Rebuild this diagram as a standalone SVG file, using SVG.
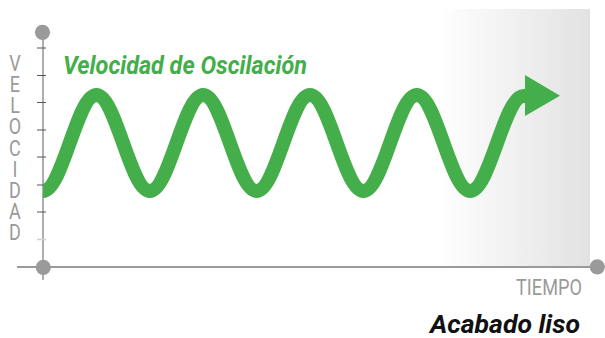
<svg xmlns="http://www.w3.org/2000/svg" width="605" height="338" viewBox="0 0 605 338">
<style>
.axis{stroke:#9a9a9a;fill:none}
.tick{stroke:#555;stroke-width:1}
.dot{fill:#9a9a9a}
.vl{font-family:Roboto,"Liberation Sans",sans-serif;font-size:22px;fill:#9a9a9a;text-anchor:middle}
.green{fill:#43ae4a}
</style>
<defs>
<linearGradient id="bg" x1="0" y1="0" x2="1" y2="0">
<stop offset="0" stop-color="#ffffff"/>
<stop offset="1" stop-color="#e2e2e2"/>
</linearGradient>
</defs>
<rect width="605" height="338" fill="#ffffff"/>
<rect id="shade" x="437" y="9" width="153" height="258" fill="url(#bg)"/>
<g id="axes">
<line class="axis" x1="43" y1="32" x2="43" y2="280" stroke-width="1.6"/>
<line class="axis" x1="17" y1="267" x2="597" y2="267" stroke-width="2"/>
<line class="tick" x1="37" y1="48" x2="46" y2="48" stroke="#777"/>
<line class="tick" x1="37" y1="75.5" x2="46" y2="75.5"/>
<line class="tick" x1="37" y1="102.5" x2="46" y2="102.5"/>
<line class="tick" x1="37" y1="130" x2="46" y2="130"/>
<line class="tick" x1="37" y1="157" x2="46" y2="157"/>
<line class="tick" x1="37" y1="185" x2="46" y2="185"/>
<line class="tick" x1="37" y1="212" x2="46" y2="212"/>
<line x1="37" y1="239.5" x2="46" y2="239.5" stroke="#cfcfcf" stroke-width="1.5"/>
<circle class="dot" cx="42.5" cy="32.3" r="7.6"/>
<circle class="dot" cx="43.3" cy="267.3" r="7.6"/>
<circle class="dot" cx="597.3" cy="266.8" r="7.6"/>
</g>
<g id="ylabel" transform="scale(0.82,1)">
<text class="vl" x="18.3" y="71"><tspan x="18.3">V</tspan><tspan x="18.3" dy="21.15">E</tspan><tspan x="18.3" dy="21.15">L</tspan><tspan x="18.3" dy="21.15">O</tspan><tspan x="18.3" dy="21.15">C</tspan><tspan x="18.3" dy="21.15">I</tspan><tspan x="18.3" dy="21.15">D</tspan><tspan x="18.3" dy="21.15">A</tspan><tspan x="18.3" dy="21.15">D</tspan></text>
</g>
<g id="connectors">
<path id="wave" d="M43,191 C62.44,191 76.96,95 96.4,95 S130.36,191 149.8,191 S183.76,95 203.2,95 S237.16,191 256.6,191 S290.56,95 310,95 S343.96,191 363.4,191 S397.36,95 416.8,95 S450.76,191 470.2,191 S504.16,96 523.6,96 L530,96" fill="none" stroke="#43ae4a" stroke-width="14"/>
<polygon class="green" points="525,75 560,95.7 525,116"/>
</g>
<g id="title">
<text x="63" y="74" font-family="Roboto,'Liberation Sans',sans-serif" font-size="25" font-weight="bold" font-style="italic" fill="#43ae4a" textLength="244" lengthAdjust="spacingAndGlyphs">Velocidad de Oscilación</text>
</g>
<g id="xlabel">
<text x="516" y="295" font-family="Roboto,'Liberation Sans',sans-serif" font-size="22" fill="#9a9a9a" textLength="66" lengthAdjust="spacingAndGlyphs">TIEMPO</text>
</g>
<g id="caption">
<text x="430" y="333" font-family="Roboto,'Liberation Sans',sans-serif" font-size="25" font-weight="bold" font-style="italic" fill="#111" textLength="150" lengthAdjust="spacingAndGlyphs">Acabado liso</text>
</g>
</svg>
